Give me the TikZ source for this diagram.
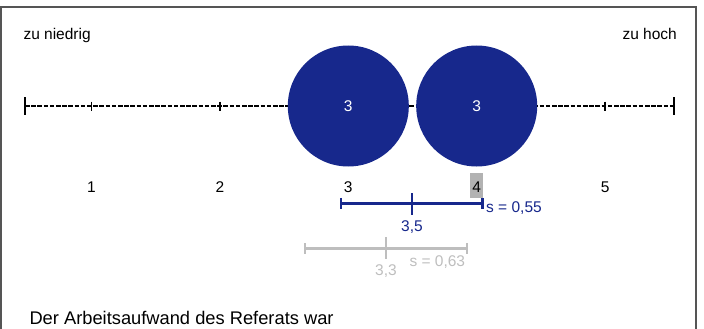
\documentclass[tikz,border=0pt]{standalone}
\usepackage{fontspec}
\setmainfont{Liberation Sans}
\definecolor{itemblue}{RGB}{23,40,140}
\definecolor{prevgray}{RGB}{190,190,190}
\definecolor{chosengray}{RGB}{178,178,178}
\definecolor{framegray}{RGB}{85,85,85}
\tikzstyle{survey}=[x=1pt, y=-1pt, inner sep=0pt, font=\fontsize{15.5}{18}\selectfont]
\tikzstyle{scaleframe}=[draw=framegray, line width=1.5pt]
\tikzstyle{scaleaxis}=[line width=1.6pt, dash pattern=on 4.6pt off 1.6pt]
\tikzstyle{endtick}=[line width=1.8pt]
\tikzstyle{axistick}=[line width=1.6pt]
\tikzstyle{bubble}=[circle, fill=itemblue, minimum size=121pt, inner sep=0pt, text=white]
\tikzstyle{chosen}=[fill=chosengray, inner xsep=1.9pt, text height=20pt, text depth=5pt]
\tikzstyle{meanbar}=[draw=itemblue, line width=2.4pt]
\tikzstyle{prevbar}=[draw=prevgray, line width=2.4pt]

\begin{document}
\begin{tikzpicture}[survey]
  \useasboundingbox (0,0) rectangle (704,329);
  \draw[scaleframe] (1,340) -- (1,7) -- (696,7) -- (696,340);

  % scale ends
  \node[anchor=base west] (low) at (23.3,40) {zu niedrig};
  \node[anchor=base east] (high) at (677,40) {zu hoch};

  % axis
  \coordinate (lo) at (25,106);
  \coordinate (hi) at (674,106);
  \draw[scaleaxis] (lo) -- (hi);
  \draw[endtick] (lo) ++(0,-9) -- ++(0,18);
  \draw[endtick] (hi) ++(0,-9) -- ++(0,18);
  \foreach \i/\s in {1/,2/,3/,4/chosen,5/} {
    \coordinate (t\i) at ({91.5+128.4*(\i-1)},106);
    \draw[axistick] (t\i) ++(0,-4.5) -- ++(0,9);
    \node[anchor=base,\s] (n\i) at ({91.5+128.4*(\i-1)},192.7) {\i};
  }

  % answers
  \node[bubble] (a3) at (t3) {3};
  \node[bubble] (a4) at (t4) {3};

  % mean and deviation
  \coordinate (b-lo) at (341,203.3);
  \coordinate (b-m) at (412,203.3);
  \coordinate (b-hi) at (482.3,203.3);
  \draw[meanbar] (b-lo) -- (b-hi);
  \draw[meanbar] (b-lo) ++(0,-5.5) -- ++(0,11);
  \draw[meanbar] (b-hi) ++(0,-5.5) -- ++(0,11);
  \draw[meanbar] (b-m) ++(0,-10) -- ++(0,21.5);
  \node[anchor=base, text=itemblue] (b-mean) at (412,231.7) {3,5};
  \node[anchor=base west, text=itemblue] (b-sd) at (486,212.7) {s = 0,55};

  % previous result
  \coordinate (g-lo) at (305,248.3);
  \coordinate (g-m) at (386,248.3);
  \coordinate (g-hi) at (466.7,248.3);
  \draw[prevbar] (g-lo) -- (g-hi);
  \draw[prevbar] (g-lo) ++(0,-5) -- ++(0,10.5);
  \draw[prevbar] (g-hi) ++(0,-5) -- ++(0,10.5);
  \draw[prevbar] (g-m) ++(0,-11) -- ++(0,22);
  \node[anchor=base, text=prevgray] (g-mean) at (386,275) {3,3};
  \node[anchor=base west, text=prevgray] (g-sd) at (409.3,266) {s = 0,63};

  \node[anchor=base west, font=\fontsize{18.3}{22}\selectfont] (item) at (29.3,324) {Der Arbeitsaufwand des Referats war};
\end{tikzpicture}
\end{document}
